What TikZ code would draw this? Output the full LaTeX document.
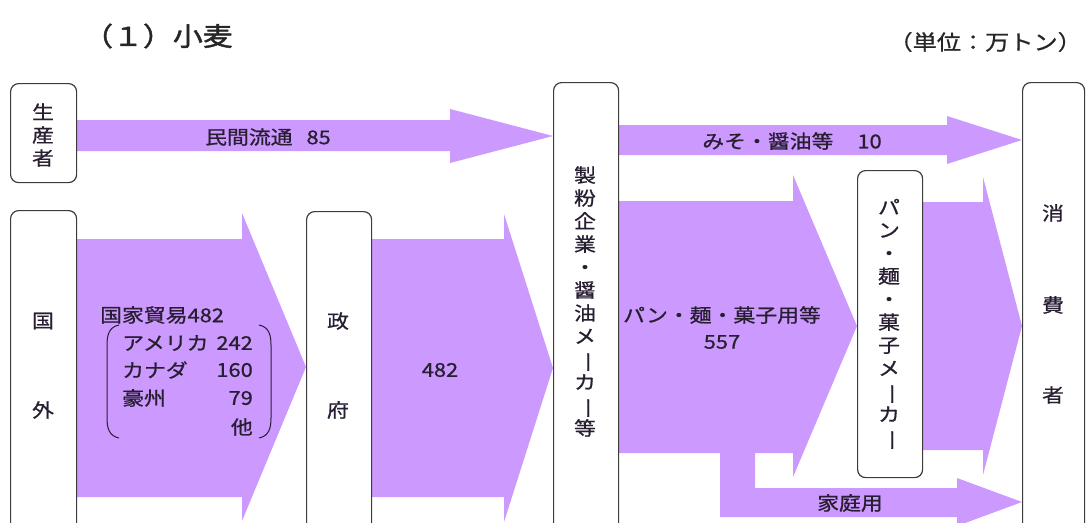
\documentclass[tikz,border=0pt]{standalone}
\usepackage{fontspec}
\usepackage{graphicx}
\usetikzlibrary{backgrounds}
\setmainfont[FakeStretch=1.15,FakeBold=0.8]{Noto Sans CJK JP}
\newfontfamily\titlefont[FakeStretch=1.15,FakeBold=1.8]{Noto Sans CJK JP}
\definecolor{flow}{RGB}{204,153,255}
\definecolor{ink}{RGB}{40,30,50}
\definecolor{edge}{RGB}{60,60,60}
\newcommand{\vbar}{\rotatebox[origin=c]{-90}{ー}}
\begin{document}
\begin{tikzpicture}[x=1pt,y=-1pt,
  box/.style={draw=edge,line width=1.2pt,rounded corners=8pt,fill=white,inner sep=0pt,anchor=north west},
  flowarrow/.style={fill=flow,draw=none},
  lbl/.style={text=ink,inner sep=0pt,font=\fontsize{19}{23}\selectfont},
  vlbl/.style={lbl,align=center},
  paren/.style={draw=ink,line width=1pt}]
\useasboundingbox (0,0) rectangle (1086,522);
\clip (0,0) rectangle (1086,522);
% boxes
\node[box,minimum width=66pt,minimum height=99pt] (seisan) at (10,83) {};
\node[box,minimum width=66pt,minimum height=330pt] (kokugai) at (10,210) {};
\node[box,minimum width=65pt,minimum height=330pt] (seifu) at (306,211) {};
\node[box,minimum width=65pt,minimum height=460pt] (seifun) at (553,82) {};
\node[box,minimum width=65pt,minimum height=307pt] (maker) at (857,170) {};
\node[box,minimum width=62pt,minimum height=460pt] (shohi) at (1022,82) {};
% flow arrows
\begin{pgfonlayer}{background}
\fill[flowarrow] (seisan.east |- 0,120) -- (450,120) -- (450,109) -- (seifun.west |- 0,136)
  -- (450,163) -- (450,151) -- (seisan.east |- 0,151) -- cycle;
\fill[flowarrow] (seifun.east |- 0,125) -- (947,125) -- (947,116) -- (shohi.west |- 0,140)
  -- (947,164) -- (947,155) -- (seifun.east |- 0,155) -- cycle;
\fill[flowarrow] (kokugai.east |- 0,239) -- (242,239) -- (242,213) -- (seifu.west |- 0,367)
  -- (242,521) -- (242,497) -- (kokugai.east |- 0,497) -- cycle;
\fill[flowarrow] (seifu.east |- 0,239) -- (504,239) -- (504,214) -- (seifun.west |- 0,368)
  -- (504,522) -- (504,497) -- (seifu.east |- 0,497) -- cycle;
\fill[flowarrow] (seifun.east |- 0,201) -- (793,201) -- (793,175) -- (maker.west |- 0,326)
  -- (793,477) -- (793,453) -- (seifun.east |- 0,453) -- cycle;
\fill[flowarrow] (720,450) -- (755,450) -- (755,488) -- (957,488) -- (957,478) -- (shohi.west |- 0,502)
  -- (957,526) -- (957,517) -- (720,517) -- cycle;
\fill[flowarrow] (maker.east |- 0,202) -- (983,202) -- (983,177) -- (shohi.west |- 0,326)
  -- (983,475) -- (983,450) -- (maker.east |- 0,450) -- cycle;
\end{pgfonlayer}
% box texts
\node[vlbl] (tseisan) at (43,135) {生\\産\\者};
\node[lbl] (tkoku1) at (43,321) {国};
\node[lbl] (tkoku2) at (43,410) {外};
\node[lbl] (tseifu1) at (338,321) {政};
\node[lbl] (tseifu2) at (338,410) {府};
\node[vlbl] (tseifun) at (585,301.5) {製\\粉\\企\\業\\・\\醤\\油\\メ\\\vbar\\カ\\\vbar\\等};
\node[vlbl] (tmaker) at (889,325) {パ\\ン\\・\\麺\\・\\菓\\子\\メ\\\vbar\\カ\\\vbar};
\node[lbl] (tshohi1) at (1053,213) {消};
\node[lbl] (tshohi2) at (1053,305) {費};
\node[lbl] (tshohi3) at (1053,395) {者};
% flow labels
\node[lbl] (lmin) at (268,137) {民間流通\hspace{14pt}85};
\node[lbl] (lmiso) at (792,141) {みそ・醤油等\hspace{24pt}10};
\node[lbl,anchor=west] (lkokka) at (100,315) {国家貿易482};
\node[lbl,anchor=west] (lus) at (122,343) {アメリカ};
\node[lbl,anchor=east] (nus) at (253,343) {242};
\node[lbl,anchor=west] (lca) at (122,370) {カナダ};
\node[lbl,anchor=east] (nca) at (253,370) {160};
\node[lbl,anchor=west] (lau) at (122,398) {豪州};
\node[lbl,anchor=east] (nau) at (253,398) {79};
\node[lbl,anchor=east] (loth) at (253,427) {他};
\draw[paren] (119,325) .. controls (109,327) and (107,335) .. (107,345) -- (107,418)
  .. controls (107,428) and (109,436) .. (119,438);
\draw[paren] (259,325) .. controls (269,327) and (271,335) .. (271,345) -- (271,418)
  .. controls (271,428) and (269,436) .. (259,438);
\node[lbl] (lgov) at (440,370) {482};
\node[lbl] (lpan) at (722,315) {パン・麺・菓子用等};
\node[lbl] (npan) at (722,342) {557};
\node[lbl] (lkatei) at (850,503) {家庭用};
% title
\node[anchor=west,text=black!85,inner sep=0pt,font=\titlefont\fontsize{26}{30}\selectfont] (title) at (83,36) {（１）小麦};
\node[anchor=east,text=black!85,inner sep=0pt,font=\fontsize{21}{24}\selectfont] (unit) at (1082,42) {（単位：万トン）};
\end{tikzpicture}
\end{document}
